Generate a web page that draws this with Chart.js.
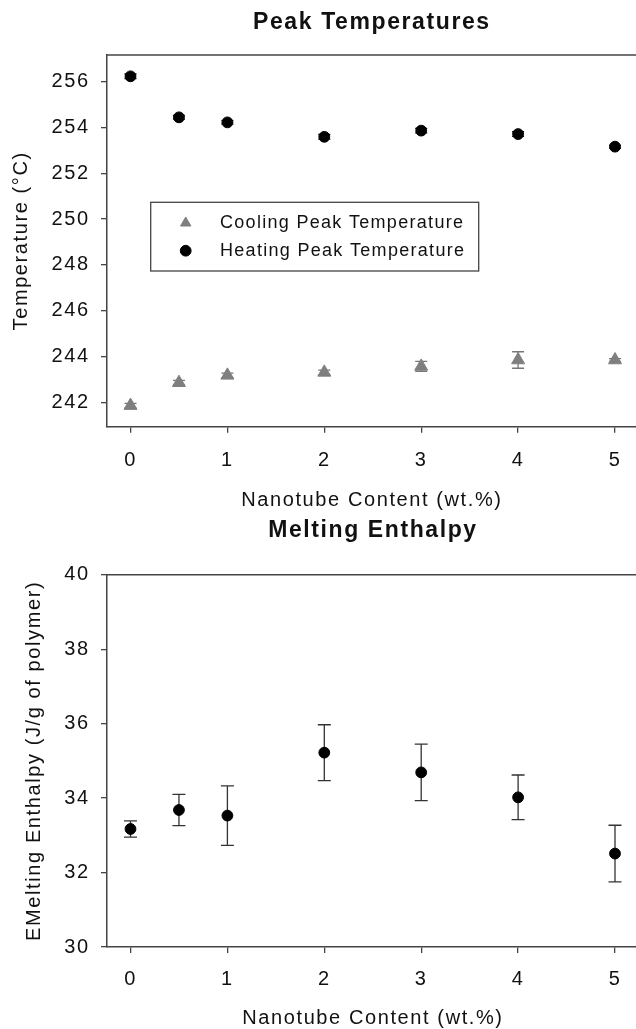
<!DOCTYPE html>
<html lang="en">
<head>
<meta charset="UTF-8">
<title>Peak Temperatures / Melting Enthalpy</title>
<script src="https://cdn.jsdelivr.net/npm/chart.js"></script>
<style>
  html, body { margin: 0; padding: 0; background: #fff; overflow: hidden; }
  #stage { position: relative; width: 636px; height: 1029px; overflow: hidden; }
  #peakChart { position: absolute; left: 0; top: 0; }
  #enthalpyChart { position: absolute; left: 0; top: 505px; }
</style>
</head>
<body>
<div id="stage">
  <canvas id="peakChart" width="646" height="520"></canvas>
  <canvas id="enthalpyChart" width="646" height="530"></canvas>
</div>
<script>
// nanotube content (wt.%)
const content = [0, 0.5, 1, 2, 3, 4, 5];
const xTicks = [0, 1, 2, 3, 4, 5];

// peak temperatures (°C) with error
const coolingPeak = [241.86, 242.86, 243.18, 243.31, 243.57, 243.85, 243.85];
const coolingErr = [0.1, 0.1, 0.1, 0.1, 0.22, 0.36, 0.06];
const heatingPeak = [256.23, 254.44, 254.22, 253.59, 253.86, 253.71, 253.16];
const heatingErr = [0.1, 0.08, 0.08, 0.1, 0.1, 0.1, 0.06];
const peakTicks = [242, 244, 246, 248, 250, 252, 254, 256];

// melting enthalpy (J/g of polymer) with error
const enthalpy = [33.17, 33.68, 33.53, 35.22, 34.69, 34.02, 32.51];
const enthalpyErr = [0.22, 0.42, 0.8, 0.75, 0.76, 0.6, 0.76];
const enthalpyTicks = [30, 32, 34, 36, 38, 40];

Chart.defaults.font.family = '"Liberation Sans", Arial, sans-serif';
Chart.defaults.color = '#111';

const axisColor = '#444';

// the original lettering is a bit looser than Arial
const tracking = {
    id: 'tracking',
    beforeUpdate(chart) { chart.ctx.letterSpacing = '1.6px'; },
    beforeDraw(chart) { chart.ctx.letterSpacing = '1.6px'; }
};

const errorBars = {
    id: 'errorBars',
    beforeDatasetsDraw(chart, args, opts) {
        const ctx = chart.ctx;
        const yScale = chart.scales.y;
        chart.data.datasets.forEach((ds, i) => {
            if (!ds.errors) return;
            const meta = chart.getDatasetMeta(i);
            ctx.save();
            ctx.strokeStyle = ds.errorColor;
            ctx.lineWidth = 1.3;
            meta.data.forEach((pt, j) => {
                const v = ds.data[j].y;
                const top = yScale.getPixelForValue(v + ds.errors[j]);
                const bot = yScale.getPixelForValue(v - ds.errors[j]);
                const w = opts.cap;
                ctx.beginPath();
                ctx.moveTo(pt.x, top); ctx.lineTo(pt.x, bot);
                ctx.moveTo(pt.x - w, top); ctx.lineTo(pt.x + w, top);
                ctx.moveTo(pt.x - w, bot); ctx.lineTo(pt.x + w, bot);
                ctx.stroke();
            });
            ctx.restore();
        });
    }
};

// top edge of the plot frame
const frameTop = {
    id: 'frameTop',
    afterDatasetsDraw(chart) {
        const { ctx, chartArea } = chart;
        ctx.save();
        ctx.strokeStyle = axisColor;
        ctx.lineWidth = 1.5;
        ctx.beginPath();
        ctx.moveTo(chartArea.left, chartArea.top);
        ctx.lineTo(chartArea.right, chartArea.top);
        ctx.stroke();
        ctx.restore();
    }
};

// legend inside a box, like the original
const boxedLegend = {
    id: 'boxedLegend',
    afterDraw(chart, args, opts) {
        if (!opts.show) return;
        const ctx = chart.ctx;
        ctx.save();
        ctx.strokeStyle = axisColor;
        ctx.lineWidth = 1.3;
        ctx.strokeRect(opts.left, opts.top, opts.width, opts.height);
        ctx.font = opts.fontSize + 'px "Liberation Sans", Arial, sans-serif';
        ctx.letterSpacing = '1.3px';
        ctx.textBaseline = 'middle';
        chart.data.datasets.forEach((ds, i) => {
            const y = opts.top + opts.rowTop + i * opts.rowGap;
            ctx.fillStyle = ds.backgroundColor;
            ctx.strokeStyle = ds.borderColor;
            ctx.lineWidth = 1;
            Chart.helpers.drawPoint(ctx, {
                pointStyle: ds.pointStyle,
                radius: opts.markerRadius[i],
                rotation: 0,
                borderWidth: 1
            }, opts.left + opts.markerX, y);
            ctx.fillStyle = '#111';
            ctx.fillText(ds.label, opts.left + opts.textX, y);
        });
        ctx.restore();
    }
};

function pairs(xs, ys) {
    return xs.map((x, i) => ({ x: x, y: ys[i] }));
}

function xAxis(height, padding, titlePad) {
    return {
        type: 'linear',
        min: -0.25,
        max: 5.217,
        afterBuildTicks: s => { s.ticks = xTicks.map(v => ({ value: v })); },
        ticks: { font: { size: 20 }, padding: padding },
        grid: { drawOnChartArea: false, tickLength: 6, color: axisColor, lineWidth: 1.3 },
        border: { color: axisColor, width: 1.5 },
        title: {
            display: true,
            text: 'Nanotube Content (wt.%)',
            font: { size: 20 },
            padding: { top: 0, bottom: titlePad }
        },
        afterFit: s => {
            s.height = height;
            s.paddingLeft = 0;
            s.paddingRight = 0;
        }
    };
}

function yAxis(min, max, tickVals, label, titlePad) {
    return {
        min: min,
        max: max,
        afterBuildTicks: s => { s.ticks = tickVals.map(v => ({ value: v })); },
        ticks: { font: { size: 20 }, padding: 11.4 },
        grid: { drawOnChartArea: false, tickLength: 5.3, color: axisColor, lineWidth: 1.3 },
        border: { color: axisColor, width: 1.5 },
        title: {
            display: true,
            text: label,
            font: { size: 20 },
            padding: { top: titlePad, bottom: 0 }
        },
        afterFit: s => {
            s.width = 106.3;
            s.paddingTop = 0;
            s.paddingBottom = 0;
        }
    };
}

// pin 0 and 5 wt.% to where they sit in the original figure
function pinX(chart, px0, px5) {
    const area = chart.chartArea;
    const perUnit = (px5 - px0) / 5;
    chart.options.scales.x.min = -(px0 - area.left) / perUnit;
    chart.options.scales.x.max = 5 + (area.right - px5) / perUnit;
    chart.update();
}

const peakChart = new Chart(document.getElementById('peakChart'), {
    type: 'scatter',
    data: {
        datasets: [{
            label: 'Cooling Peak Temperature',
            data: pairs(content, coolingPeak),
            errors: coolingErr,
            errorColor: '#777',
            pointStyle: 'triangle',
            pointRadius: 7.5,
            backgroundColor: '#7f7f7f',
            borderColor: '#7f7f7f',
            borderWidth: 1
        }, {
            label: 'Heating Peak Temperature',
            data: pairs(content, heatingPeak),
            errors: heatingErr,
            errorColor: '#111',
            pointStyle: 'circle',
            pointRadius: 5.4,
            backgroundColor: '#000',
            borderColor: '#000',
            borderWidth: 1
        }]
    },
    options: {
        responsive: false,
        animation: false,
        devicePixelRatio: 1,
        layout: { padding: 0 },
        scales: {
            x: xAxis(93.3, 15.3, 8),
            y: yAxis(240.94, 257.16, peakTicks, 'Temperature (°C)', 9.5)
        },
        plugins: {
            legend: { display: false },
            tooltip: { enabled: false },
            title: {
                display: true,
                text: 'Peak Temperatures',
                fullSize: false,
                font: { size: 23, weight: 'bold' },
                padding: { top: 9.2, bottom: 18.2 }
            },
            errorBars: { cap: 6 },
            boxedLegend: {
                show: true,
                left: 150.7, top: 202.3, width: 328, height: 68.7,
                markerX: 35, textX: 69.3,
                rowTop: 20.7, rowGap: 27.7,
                markerRadius: [6, 5.4],
                fontSize: 18
            }
        }
    },
    plugins: [tracking, errorBars, frameTop, boxedLegend]
});
pinX(peakChart, 130.5, 615);

const enthalpyChart = new Chart(document.getElementById('enthalpyChart'), {
    type: 'scatter',
    data: {
        datasets: [{
            label: 'Melting Enthalpy',
            data: pairs(content, enthalpy),
            errors: enthalpyErr,
            errorColor: '#333',
            pointStyle: 'circle',
            pointRadius: 5.4,
            backgroundColor: '#000',
            borderColor: '#000',
            borderWidth: 1
        }]
    },
    options: {
        responsive: false,
        animation: false,
        devicePixelRatio: 1,
        layout: { padding: 0 },
        scales: {
            x: xAxis(88, 14, 4.7),
            y: yAxis(30, 40, enthalpyTicks, 'EMelting Enthalpy (J/g of polymer)', 22)
        },
        plugins: {
            legend: { display: false },
            tooltip: { enabled: false },
            title: {
                display: true,
                text: 'Melting Enthalpy',
                fullSize: false,
                font: { size: 23, weight: 'bold' },
                padding: { top: 11.9, bottom: 30.2 }
            },
            errorBars: { cap: 6.5 },
            boxedLegend: { show: false }
        }
    },
    plugins: [tracking, errorBars, frameTop, boxedLegend]
});
pinX(enthalpyChart, 130.5, 615);
</script>
</body>
</html>
